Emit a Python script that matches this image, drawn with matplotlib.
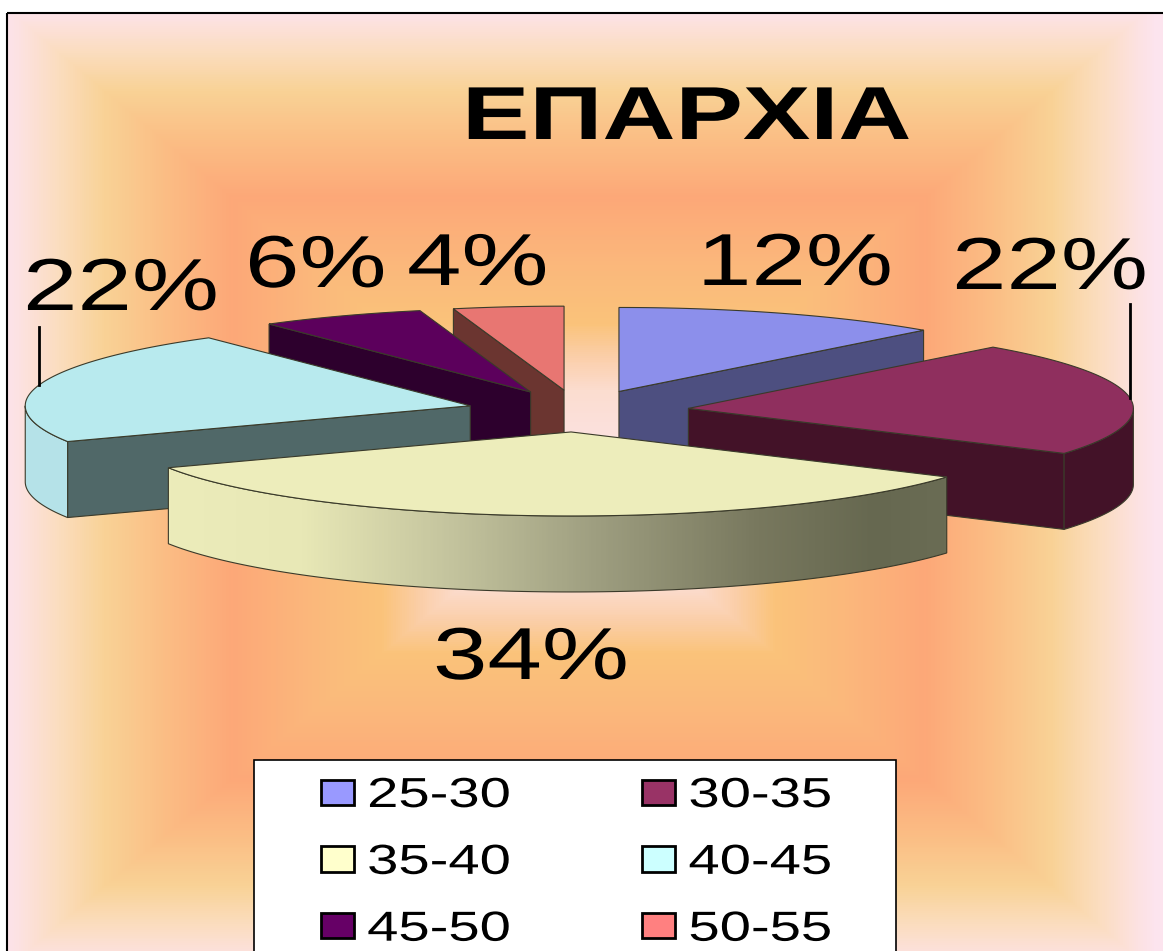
#!/usr/bin/env python

import numpy as np
import matplotlib
matplotlib.use('Agg')
import matplotlib.pyplot as plt
from matplotlib.colors import LinearSegmentedColormap
from matplotlib.patches import Polygon, Rectangle
from matplotlib.patheffects import AbstractPathEffect
from matplotlib.transforms import Affine2D

plt.rcParams['font.family'] = ['Liberation Sans', 'DejaVu Sans']

title = 'ΕΠΑΡΧΙΑ'
age_groups = ['25-30', '30-35', '35-40', '40-45', '45-50', '50-55']
shares = [12, 22, 34, 22, 6, 4]

legend_colors = ['#9999FF', '#993366', '#FFFFCC', '#CCFFFF', '#660066', '#FF8080']
top_colors = ['#8C8FEB', '#8F2F5E', '#EDEDBB', '#B8EAEE', '#5C005C', '#E87672']
face_colors = ['#4D4F80', '#431228', '#EDEDBB', '#506868', '#2D002D', '#6B3530']
rim_colors = ['#4D4F80', '#431228', None, '#B5E2E8', '#2D002D', '#6B3530']

# left edge and baseline of each percent label
label_spots = [(697, 285), (952, 289), (433, 679), (23, 310), (245, 287), (407, 285)]
leader_lengths = [0, 94, 0, 58, 0, 0]

# pie geometry in pixels
cx, cy = 578, 411
rx, ry = 445, 84
depth = 76
explode = 0.25

bg_stops = [(0.0, '#FCE6EE'), (0.2, '#FBDDD0'), (0.27, '#FBCFAA'), (0.34, '#FAC37A'),
            (0.45, '#FBB97C'), (0.6, '#FDA878'), (0.72, '#FBBE85'), (0.82, '#F9D296'),
            (0.9, '#FBDDBE'), (0.97, '#FDE2E2'), (1.0, '#FCE4EE')]
side_stops = [(0.0, '#ECECBA'), (0.17, '#E8E8B6'), (0.36, '#C4C49E'), (0.55, '#9E9E80'),
              (0.76, '#78785E'), (0.91, '#666850'), (1.0, '#6A6C54')]
line_color = '#3a3a2a'


class StretchX(AbstractPathEffect):
    # widens the glyphs, the lettering is set wide on this chart
    def __init__(self, sx):
        super().__init__()
        self.sx = sx

    def draw_path(self, renderer, gc, tpath, affine, rgbFace=None):
        renderer.draw_path(gc, tpath, Affine2D().scale(self.sx, 1) + affine, rgbFace)


def arc(x0, y0, a0, a1):
    t = np.radians(np.linspace(a0, a1, 120))
    return np.column_stack([x0 + rx * np.sin(t), y0 - ry * np.cos(t)])


def extrude(pts):
    return np.vstack([pts, (pts + [0, depth])[::-1]])


fig = plt.figure(figsize=(11.63, 9.51), dpi=100)
ax = fig.add_axes([0, 0, 1, 1])

# rectangular background gradient
xx, yy = np.meshgrid(np.arange(8, 1163), np.arange(13, 951))
tt = np.maximum(np.abs(xx - 578) / 578, np.abs(yy - 488) / 485)
ax.imshow(tt, extent=(8, 1163, 951, 13), aspect='auto', vmin=0, vmax=1,
          cmap=LinearSegmentedColormap.from_list('bg', bg_stops))
ax.add_patch(Rectangle((7, 13), 1170, 960, fill=False, ec='black', lw=1.5, zorder=1))

edges = np.cumsum([0] + shares) * 3.6
mids = (edges[:-1] + edges[1:]) / 2
apex_x = cx + explode * rx * np.sin(np.radians(mids))
apex_y = cy - explode * ry * np.cos(np.radians(mids))
draw_rank = np.argsort(np.argsort(apex_y))

# slices from the back of the pie to the front
for i in np.argsort(apex_y):
    a0, a1 = edges[i], edges[i + 1]
    x0, y0 = apex_x[i], apex_y[i]
    zo = 2 + draw_rank[i]
    top = arc(x0, y0, a0, a1)
    apex = np.array([[x0, y0]])

    if np.sin(np.radians(a0)) < -1e-6:
        face = extrude(np.vstack([apex, top[:1]]))
        ax.add_patch(Polygon(face, fc=face_colors[i], ec=line_color, lw=0.8, zorder=zo))
    if np.sin(np.radians(a1)) > 1e-6:
        face = extrude(np.vstack([apex, top[-1:]]))
        ax.add_patch(Polygon(face, fc=face_colors[i], ec=line_color, lw=0.8, zorder=zo))

    r0, r1 = max(a0, 90), min(a1, 270)
    if r1 > r0:
        rim = extrude(arc(x0, y0, r0, r1))
        if rim_colors[i] is None:
            # shaded side of the front slice
            x_lo, x_hi = rim[:, 0].min(), rim[:, 0].max()
            shade = ax.imshow(np.linspace(0, 1, 400)[None, :], aspect='auto', zorder=zo,
                              extent=(x_lo, x_hi, rim[:, 1].max(), rim[:, 1].min()),
                              cmap=LinearSegmentedColormap.from_list('side', side_stops))
            clip = Polygon(rim, fc='none', ec=line_color, lw=0.8, zorder=zo)
            ax.add_patch(clip)
            shade.set_clip_path(clip)
        else:
            ax.add_patch(Polygon(rim, fc=rim_colors[i], ec=line_color, lw=0.8, zorder=zo))

    ax.add_patch(Polygon(np.vstack([apex, top]), fc=top_colors[i], ec=line_color, lw=0.8, zorder=zo))

    if leader_lengths[i]:
        lx = x0 + rx * np.sin(np.radians(mids[i]))
        ly = y0 - ry * np.cos(np.radians(mids[i]))
        ax.plot([lx, lx], [ly - leader_lengths[i], ly], color='black', lw=2, zorder=zo)

ax.text(462, 139, title, fontsize=54, fontweight='bold', color='black',
        ha='left', va='baseline', path_effects=[StretchX(1.348)], zorder=20)
for share, (lx, ly) in zip(shares, label_spots):
    ax.text(lx, ly, f'{share}%', fontsize=53, color='black', ha='left', va='baseline',
            path_effects=[StretchX(1.33)], zorder=20)

# legend box runs off the bottom of the figure
ax.add_patch(Rectangle((254, 760), 642, 210, fc='white', ec='black', lw=1.2, zorder=20))
handles = [Rectangle((0, 0), 1, 1, fc=c, ec='black', lw=2) for c in legend_colors]
# matplotlib fills legend columns first, the entries read across the rows
order = [0, 2, 4, 1, 3, 5]
leg = ax.legend([handles[k] for k in order], [age_groups[k] for k in order], ncol=2,
                loc='upper left', bbox_to_anchor=(321, 776),
                bbox_transform=ax.transData, frameon=False, fontsize=30.2, borderpad=0,
                borderaxespad=0, handlelength=0.79, handleheight=0.55, handletextpad=0.31,
                columnspacing=4.0, labelspacing=0.64)
leg.set_zorder(21)
for txt in leg.get_texts():
    txt.set_path_effects([StretchX(1.34)])

ax.set_xlim(0, 1163)
ax.set_ylim(951, 0)
ax.axis('off')

plt.savefig('out.png', dpi=100)
plt.close()
